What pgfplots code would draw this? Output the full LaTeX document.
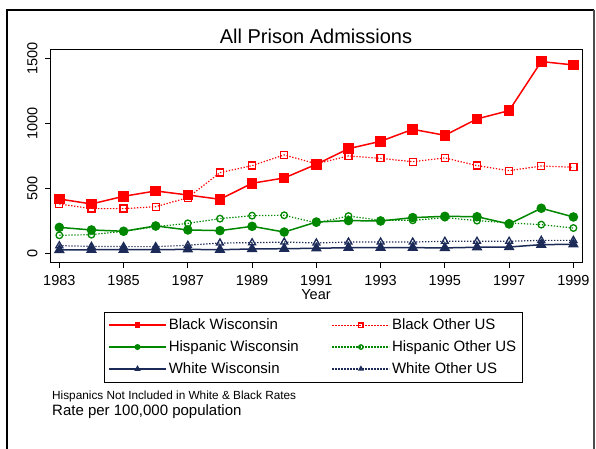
\documentclass[border=0pt]{standalone}
\usepackage{pgfplots}
\pgfplotsset{compat=1.18}
\usepackage{fontspec}
\setmainfont{Liberation Sans}
\definecolor{sred}{RGB}{255,0,0}
\definecolor{sgreen}{RGB}{0,135,0}
\definecolor{snavy}{RGB}{28,42,88}
\begin{document}
\begin{tikzpicture}[x=1pt,y=1pt]
\path[use as bounding box] (0,0) rectangle (596,449);
\begin{axis}[
  at={(50pt,186pt)}, anchor=south west,
  scale only axis, width=532.7pt, height=213pt,
  xmin=1982.71, xmax=1999.29, ymin=-73, ymax=1565,
  xtick={1983,1985,...,1999}, ytick={0,500,1000,1500},
  /pgf/number format/1000 sep={},
  xticklabel style={font=\fontsize{14.5}{16}\selectfont, inner sep=0.5pt, yshift=-6.8pt},
  yticklabel style={rotate=90, anchor=south, font=\fontsize{14.5}{16}\selectfont, yshift=4pt},
  /pgf/number format/assume math mode=true,
  tick align=outside, major tick length=5pt,
  xtick pos=bottom, ytick pos=left,
  tick style={black, line width=0.8pt},
  axis line style={line width=1pt},
  every axis plot/.append style={line width=1.5pt},
  legend columns=2,
  legend cell align=left,
  legend style={at={(rel axis cs:0.1015,-0.229)}, anchor=north west, draw=black,
    font=\fontsize{15}{17}\selectfont, inner xsep=4pt, inner ysep=5pt,
    row sep=5.5pt,
    /tikz/every even column/.append style={column sep=31pt}},
  legend image code/.code={\draw[mark repeat=2,mark phase=2, mark size=2.2pt] plot coordinates {(0pt,0pt) (28.5pt,0pt) (57pt,0pt)};},
]
% Black Wisconsin
\addplot[sred, solid, mark=square*, mark size=4.5pt, mark options={solid}] coordinates {
(1983,419)(1984,381)(1985,440)(1986,481)(1987,450)(1988,417)(1989,540)(1990,581)(1991,686)
(1992,806)(1993,863)(1994,955)(1995,909)(1996,1035)(1997,1099)(1998,1476)(1999,1450)};
\addlegendentry{Black Wisconsin}
% Black Other US
\addplot[sred, dash pattern=on 1.3pt off 1.7pt, line width=1.2pt, mark=square, mark size=3.5pt, mark options={solid, line width=1.3pt}] coordinates {
(1983,381)(1984,345)(1985,345)(1986,360)(1987,429)(1988,622)(1989,676)(1990,758)(1991,690)
(1992,750)(1993,732)(1994,706)(1995,735)(1996,676)(1997,637)(1998,673)(1999,663)};
\addlegendentry{Black Other US}
% Hispanic Wisconsin
\addplot[sgreen, solid, mark=*, mark size=4pt, mark options={solid}] coordinates {
(1983,201)(1984,181)(1985,171)(1986,212)(1987,181)(1988,176)(1989,209)(1990,165)(1991,242)
(1992,253)(1993,250)(1994,276)(1995,286)(1996,283)(1997,227)(1998,348)(1999,281)};
\addlegendentry{Hispanic Wisconsin}
% Hispanic Other US
\addplot[sgreen, dash pattern=on 1.3pt off 1.7pt, line width=1.2pt, mark=o, mark size=3.3pt, mark options={solid, line width=1.3pt}] coordinates {
(1983,140)(1984,145)(1985,171)(1986,206)(1987,232)(1988,268)(1989,291)(1990,294)(1991,235)
(1992,288)(1993,255)(1994,255)(1995,276)(1996,253)(1997,235)(1998,222)(1999,196)};
\addlegendentry{Hispanic Other US}
% White Wisconsin
\addplot[snavy, solid, mark=triangle*, mark size=4.8pt, mark options={solid}] coordinates {
(1983,27)(1984,29)(1985,29)(1986,29)(1987,32)(1988,29)(1989,35)(1990,37)(1991,40)
(1992,45)(1993,45)(1994,45)(1995,43)(1996,48)(1997,50)(1998,68)(1999,71)};
\addlegendentry{White Wisconsin}
% White Other US
\addplot[snavy, dash pattern=on 1.3pt off 1.7pt, line width=1.2pt, mark=triangle, mark size=4pt, mark options={solid, line width=1.3pt}] coordinates {
(1983,60)(1984,55)(1985,53)(1986,53)(1987,63)(1988,81)(1989,83)(1990,88)(1991,81)
(1992,88)(1993,88)(1994,88)(1995,94)(1996,94)(1997,94)(1998,101)(1999,101)};
\addlegendentry{White Other US}
\end{axis}
\node[font=\fontsize{20}{24}\selectfont] at (316,413) {All Prison Admissions};
\node[font=\fontsize{14.5}{17}\selectfont, inner sep=0pt, anchor=base] at (316,149.5) {Year};
\node[anchor=base west, font=\fontsize{11.8}{14}\selectfont, inner sep=0pt] at (52,49.5) {Hispanics Not Included in White \& Black Rates};
\node[anchor=base west, font=\fontsize{15}{18}\selectfont, inner sep=0pt] at (52,33) {Rate per 100,000 population};
\draw[black, line width=2.5pt] (7,-5) -- (7,439) -- (594,439);
\draw[black!70, line width=1.5pt] (594,439) -- (594,-5);
\end{tikzpicture}
\end{document}
